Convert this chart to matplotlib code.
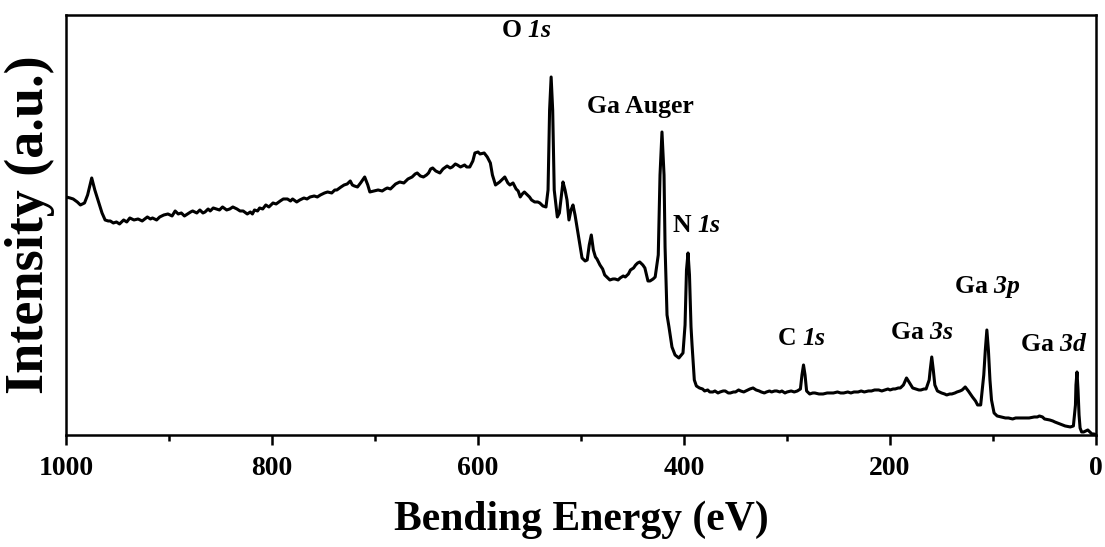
import numpy as np
import matplotlib
matplotlib.use("Agg")
import matplotlib.pyplot as plt

plt.rcParams['font.family'] = ['Liberation Serif', 'DejaVu Serif']
plt.rcParams['font.weight'] = 'bold'
plt.rcParams['mathtext.fontset'] = 'custom'
plt.rcParams['mathtext.rm'] = 'Liberation Serif:bold'
plt.rcParams['mathtext.sf'] = 'Liberation Serif:italic:bold'
plt.rcParams['mathtext.bf'] = 'Liberation Serif:bold'

# XPS survey spectrum (binding energy in eV, intensity in a.u.)
energy = [1000, 996, 993, 989, 986, 982, 979, 975, 972, 969, 965, 962, 959, 957,
          954, 951, 948, 944, 941, 938, 934, 930, 926, 921, 918, 916, 912, 909,
          905, 901, 897, 894, 891, 888, 885, 882, 879, 877, 873, 870, 867, 865,
          862, 860, 857, 854, 851, 848, 844, 841, 838, 834, 831, 828, 824, 821,
          819, 817, 814, 812, 809, 806, 803, 799, 796, 792, 789, 785, 782, 780,
          776, 773, 769, 766, 763, 759, 756, 753, 749, 746, 742, 739, 737, 733,
          730, 727, 724, 722, 720, 717, 714, 712, 710, 707, 705, 701, 697, 693,
          690, 688, 685, 683, 680, 676, 672, 668, 664, 661, 659, 656, 653, 650,
          648, 646, 644, 641, 637, 634, 630, 627, 625, 622, 620, 617, 615, 613,
          611, 608, 605, 603, 600, 598, 594, 591, 588, 586, 583, 579, 576, 574,
          571, 569, 566, 563, 561, 559, 557, 555, 552, 550, 548, 545, 542, 540,
          537, 534, 532, 530.5, 529, 527.5, 526, 523,
          521, 519, 517.5, 515.5, 513.6, 511.7, 509.7, 507.8, 505.8, 503.9, 501,
          499, 496, 494, 492, 490, 488, 486, 484.5, 481.6, 479, 477, 474, 472,
          469, 467, 464, 462, 459, 457, 454, 452, 449, 447, 445, 443, 440, 438,
          435, 433, 430, 428, 425, 423.3, 421.4,
          419.4, 418.4, 416.5, 414.6, 411.7, 408.7, 405, 401, 399, 397.6, 396.1,
          394.7, 393.2, 392.2, 390, 388, 385, 382, 380, 377, 375, 372, 370, 367,
          365, 362, 360, 357, 355, 352, 350, 347, 345, 342, 340, 336, 333, 330,
          327, 325, 322, 320, 317, 315, 312, 310, 307, 305, 302, 300, 296, 293,
          290, 287, 285.5, 284, 282.5, 281, 278, 275, 273, 269, 265, 261, 258,
          255, 251, 248, 245, 241, 238, 235, 231, 228, 225, 221, 218, 215, 211,
          208, 205, 202, 200, 197, 195, 192, 190, 187, 184, 181, 178, 175, 172,
          170, 167, 165, 162, 161, 159.5, 158, 156.5, 154, 152, 150, 147, 145,
          142, 140, 137, 135, 132, 130, 127, 124, 120, 117, 115, 112, 109, 107.5,
          106, 104.5, 103, 101.5, 99, 96, 92, 88, 85, 81, 78, 74, 70, 65, 60, 57,
          55, 52, 50, 45, 42, 40, 35, 30, 25, 22, 20, 19.5, 18.5, 17.5, 16.5,
          15.5, 14, 12, 10, 8, 6, 4, 2, 0]
intensity = [238, 237, 236, 233, 230, 232, 240, 257, 245, 235, 222, 215, 214, 214,
             212, 213, 211, 215, 213, 217, 215, 216, 214, 218, 216, 217, 215, 218,
             220, 221, 219, 224, 221, 222, 219, 221, 223, 224, 222, 225, 222, 223,
             226, 224, 227, 226, 225, 228, 225, 226, 228, 226, 224, 224, 221, 223,
             221, 225, 224, 227, 226, 230, 228, 232, 231, 234, 236, 236, 234, 236,
             233, 235, 237, 236, 238, 239, 238, 240, 242, 243, 242, 245, 245, 248,
             250, 251, 254, 250, 249, 248, 252, 255, 258, 250, 243, 244, 245, 244,
             246, 247, 246, 248, 251, 253, 252, 256, 258, 261, 262, 259, 258, 260,
             262, 266, 267, 264, 262, 266, 269, 267, 268, 271, 270, 268, 269, 270,
             268, 268, 274, 282, 283, 281, 282, 278, 272, 260, 250, 253, 256, 258,
             252, 250, 252, 246, 244, 238, 241, 243, 240, 238, 235, 233, 233, 232,
             229, 228, 245, 325, 358, 325, 245, 218,
             222, 240, 253, 245, 235, 215, 225, 230, 220, 208, 190,
             177, 174, 175, 190, 200, 185, 178, 176, 170, 166, 160, 157, 155,
             156, 156, 155, 157, 159, 158, 161, 165, 167, 170, 172, 173, 170, 167,
             154, 154, 156, 158, 180, 260, 303,
             260, 188, 120, 108, 88, 80, 77, 82, 110, 165, 182,
             160, 108, 90, 55, 49, 47, 46, 44, 45, 43, 43, 44, 42,
             43, 44, 44, 42, 42, 43, 43, 45, 44, 43, 44, 46, 47, 45,
             44, 43, 42, 43, 44, 43, 44, 44, 43, 44, 42, 43, 44, 43,
             44, 46, 60, 70, 60, 44, 41, 42, 42, 41, 41, 42, 42,
             42, 43, 42, 42, 43, 42, 43, 43, 44, 43, 44, 44, 45, 45,
             44, 45, 46, 45, 46, 46, 47, 47, 50, 57, 52, 47, 46, 45,
             45, 46, 46, 55, 65, 78, 65, 50, 44, 43, 42, 41, 40,
             41, 41, 42, 43, 44, 45, 48, 44, 38, 34, 30, 30, 60, 85,
             105, 85, 55, 35, 22, 19, 18, 17, 17, 16, 17, 17, 17, 17, 18, 18,
             19, 18, 16, 15, 14, 13, 11, 9, 8, 9, 30, 50, 63, 45, 20,
             7, 3, 3, 4, 5, 3, 1, 1, 0]

# peak labels: text, left edge (eV), baseline (a.u.)
peak_labels = [r'O $\mathsf{1s}$', 'Ga Auger', r'N $\mathsf{1s}$', r'C $\mathsf{1s}$',
               r'Ga $\mathsf{3s}$', r'Ga $\mathsf{3p}$', r'Ga $\mathsf{3d}$']
label_x = [578, 494, 412, 310, 200, 138, 74]
label_y = [398, 322, 203, 90, 96, 142, 84]

fig = plt.figure(figsize=(11.05, 5.47), dpi=100)
ax = fig.add_axes([0.0597, 0.2048, 0.9322, 0.7678])

ax.plot(energy, intensity, color='black', lw=2.2, solid_joinstyle='round')

for txt, lx, ly in zip(peak_labels, label_x, label_y):
    ax.text(lx, ly, txt, fontsize=18.5, fontweight='bold', ha='left', va='baseline')

ax.set_xlim(1000, 0)
ax.set_ylim(0, 420)
ax.set_xticks(np.arange(0, 1001, 200))
ax.set_xticks(np.arange(100, 1000, 200), minor=True)
ax.set_yticks([])
ax.tick_params(axis='x', which='major', direction='out', length=7, width=1.8,
               labelsize=20, pad=8)
ax.tick_params(axis='x', which='minor', direction='out', length=4, width=1.8)
for s in ax.spines.values():
    s.set_linewidth(1.8)
for lab in ax.get_xticklabels():
    lab.set_fontweight('bold')

ax.set_xlabel('Bending Energy (eV)', fontsize=30, fontweight='bold', labelpad=14)
ax.set_ylabel('Intensity (a.u.)', fontsize=39, fontweight='bold', labelpad=8)

fig.savefig('out.png', dpi=100)
